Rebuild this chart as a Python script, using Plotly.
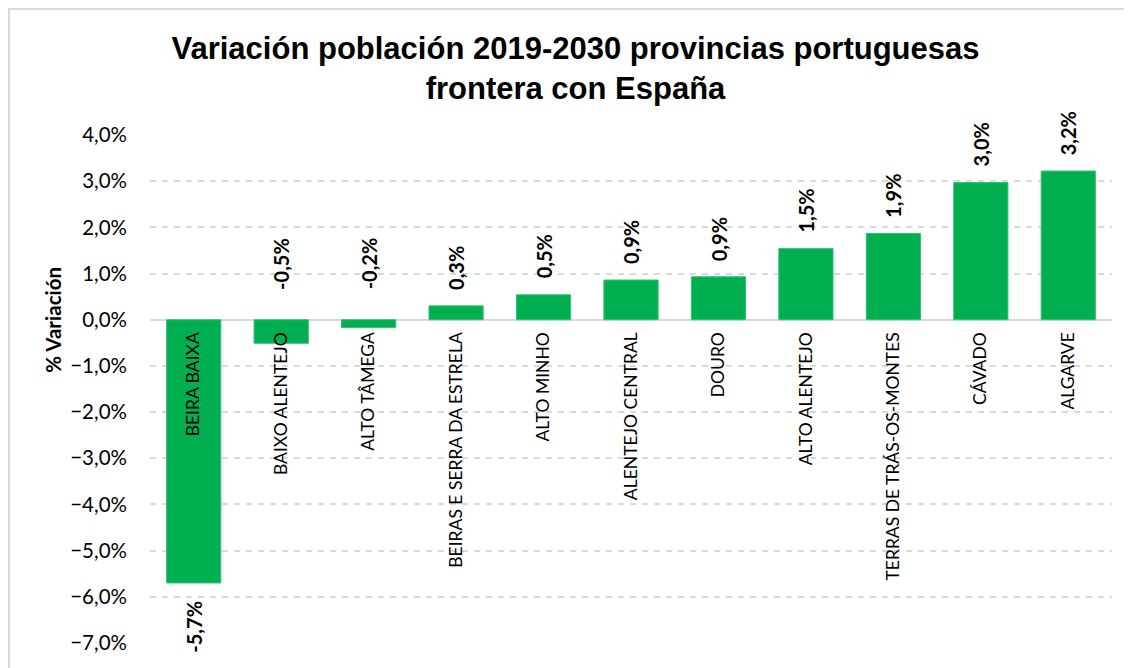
import plotly.graph_objects as go

categories = ["BEIRA BAIXA", "BAIXO ALENTEJO", "ALTO TÂMEGA", "BEIRAS E SERRA DA ESTRELA",
              "ALTO MINHO", "ALENTEJO CENTRAL", "DOURO", "ALTO ALENTEJO",
              "TERRAS DE TRÁS-OS-MONTES", "CÁVADO", "ALGARVE"]
variation = [-0.0570, -0.0051, -0.0017, 0.0030, 0.0054, 0.0086, 0.0093, 0.0154, 0.0187, 0.0297, 0.0322]
y_ticks = [0.04, 0.03, 0.02, 0.01, 0.0, -0.01, -0.02, -0.03, -0.04, -0.05, -0.06, -0.07]

title_text = "Variación población 2019-2030 provincias portuguesas<br>frontera con España"
y_title = "% Variación"

GREEN = "#00B050"
GRID = "#d9d9d9"
FONT = "Lato, 'Open Sans', sans-serif"

ymin, ymax = min(y_ticks), max(y_ticks)

# page body has an 8px margin; compensate so the plot area sits at x 150..1112, y 135..643
OFF = 8
PL, PR, PT, PB = 150, 1112, 135, 643
W = PR - PL
H = PB - PT

fig = go.Figure()
fig.add_trace(go.Bar(
    x=categories, y=variation,
    marker=dict(color=GREEN, line=dict(color="#33c273", width=1)),
    width=0.62,
    hoverinfo="x+y",
))

# value labels (rotated)
for c, v in zip(categories, variation):
    label = f"{v*100:.1f}%".replace(".", ",")
    if v >= 0:
        y, anchor, shift = v, "bottom", 14
    elif v > -0.01:
        # small negative bars: label placed above the zero line
        y, anchor, shift = 0, "bottom", 28
    else:
        y, anchor, shift = v, "top", -16
    fig.add_annotation(
        x=c, y=y, xref="x", yref="y",
        text=f"<b>{label}</b>", showarrow=False, textangle=-90,
        yanchor=anchor, yshift=shift,
        font=dict(family=FONT, size=20, color="black"),
    )

# y-axis title, centred on the zero line as in the original
fig.add_annotation(
    x=(53 - PL) / W, y=(0 - ymin) / (ymax - ymin), xref="paper", yref="paper",
    text=f"<b>{y_title}</b>", showarrow=False, textangle=-90,
    xanchor="center", yanchor="middle",
    font=dict(family=FONT, size=20.5, color="black"),
)

# outer chart border (at the canvas edge)
fig.add_shape(type="rect", xref="paper", yref="paper",
              x0=(OFF + 1 - PL) / W, x1=(1150 - PL) / W,
              y0=(PB - 700) / H, y1=(PB - OFF - 1) / H,
              line=dict(color=GRID, width=2), fillcolor="rgba(0,0,0,0)", layer="below")

fig.update_layout(
    width=1132, height=668,
    margin=dict(l=PL - OFF, r=1132 + OFF - PR, t=PT - OFF, b=668 + OFF - PB, autoexpand=False),
    paper_bgcolor="white", plot_bgcolor="white",
    separators=",.",
    showlegend=False,
    title=dict(text=f"<b>{title_text}</b>", x=(575.5 - PL) / W, xref="paper", xanchor="center",
               y=1 - 51 / 668, yref="container", yanchor="top",
               font=dict(family="'Liberation Sans', Arial, sans-serif", size=31, color="black")),
    xaxis=dict(
        anchor="free", position=(0 - ymin) / (ymax - ymin), side="bottom",
        tickangle=-90, showline=False, showgrid=False, ticks="",
        tickfont=dict(family=FONT, size=17.5, color="black"),
        ticklabelstandoff=8,
    ),
    yaxis=dict(
        range=[ymin, ymax], tickvals=y_ticks, tickformat=".1%",
        showgrid=True, gridcolor=GRID, gridwidth=1.5, griddash="6px,6px",
        zeroline=True, zerolinecolor=GRID, zerolinewidth=2,
        showline=False, ticks="", ticklabelstandoff=22,
        tickfont=dict(family=FONT, size=20.5, color="black"),
    ),
    bargap=0.38,
)

fig.write_html("out.html")
